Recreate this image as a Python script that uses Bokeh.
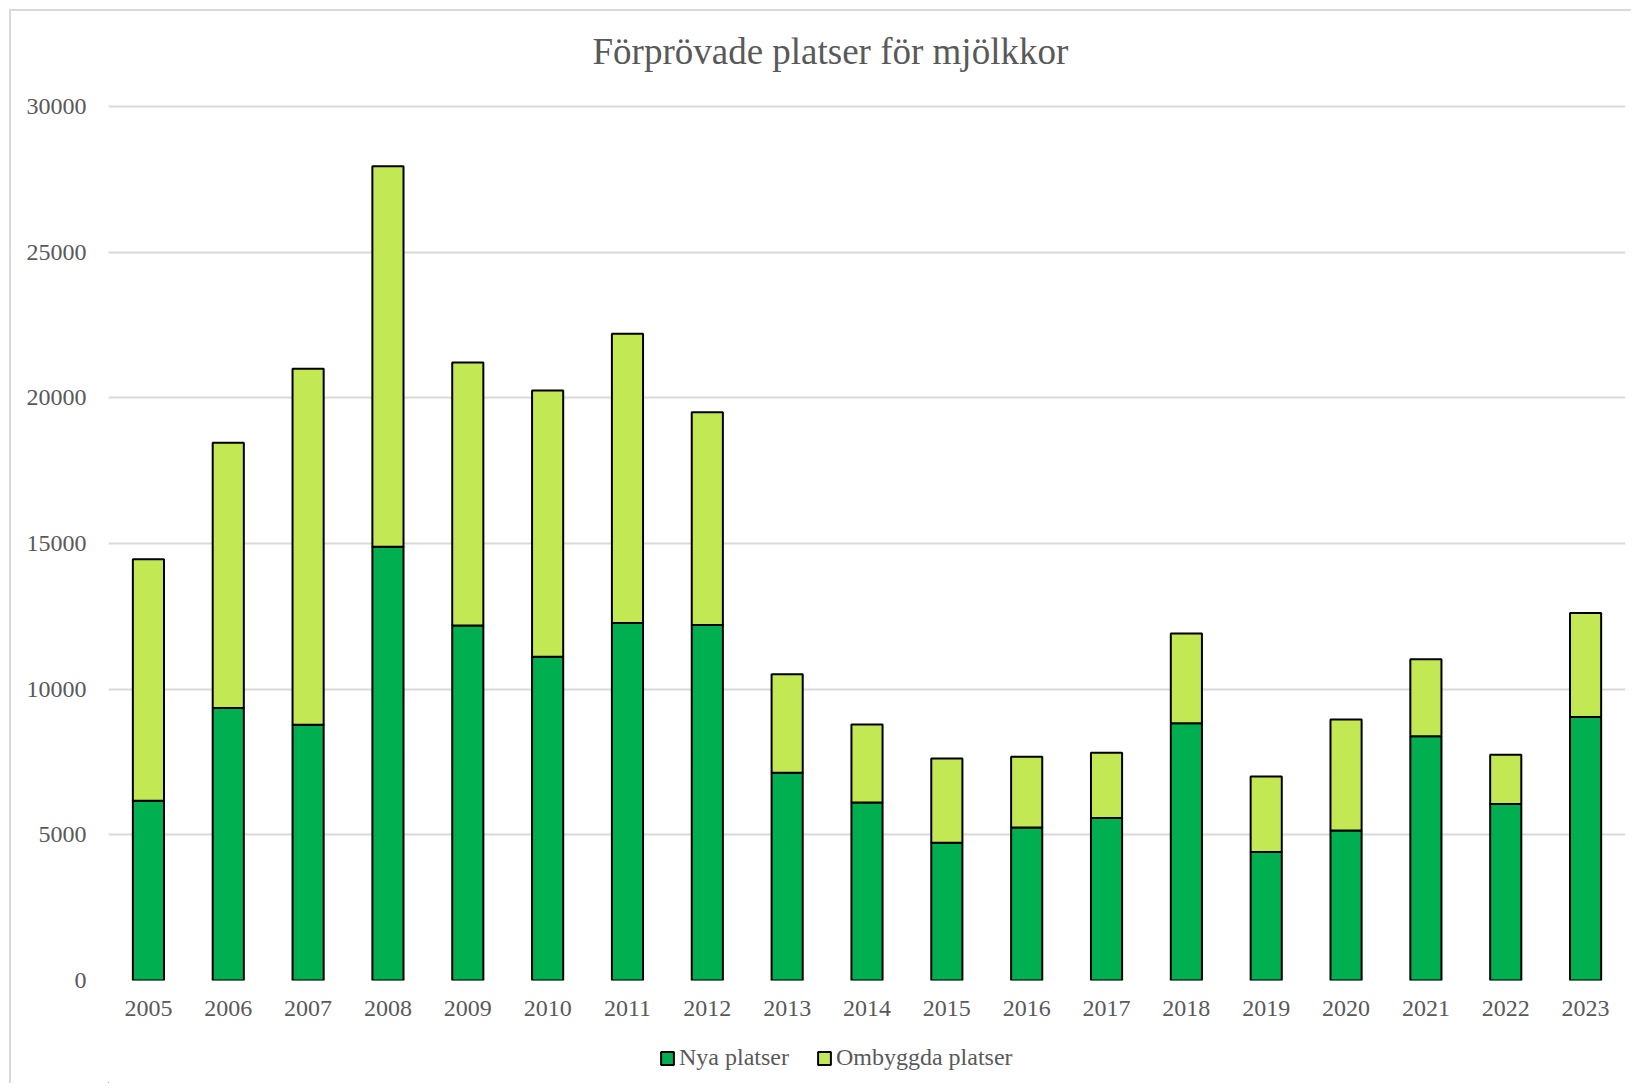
from bokeh.plotting import figure
from bokeh.models import ColumnDataSource, Legend, LegendItem, FactorRange, Range1d, Title
from bokeh.layouts import column
from bokeh.embed import file_html
from bokeh.resources import INLINE

years = [str(y) for y in range(2005, 2024)]
nya = [6170, 9350, 8780, 14890, 12180, 11110, 12270, 12200, 7130, 6110,
       4730, 5250, 5580, 8830, 4410, 5150, 8380, 6060, 9040]
ombyggda = [8290, 9110, 12220, 13060, 9030, 9140, 9930, 7300, 3380, 2680,
            2890, 2430, 2240, 3080, 2590, 3810, 2650, 1690, 3570]
y_ticks = [0, 5000, 10000, 15000, 20000, 25000, 30000]
title_text = "Förprövade platser för mjölkkor"
series_names = ["Nya platser", "Ombyggda platser"]
colors = ["#00B050", "#C2E854"]

FONT = "Liberation Serif"
TXT = "#595959"
BORDER = "2px solid #d9d9d9"

src = ColumnDataSource(dict(year=years, nya=nya, ombyggda=ombyggda))

p = figure(width=1622, height=1029, x_range=FactorRange(*years), y_range=Range1d(0, 30100),
           output_backend="svg", toolbar_location=None, title=None,
           min_border_left=97, min_border_right=8, min_border_top=92, min_border_bottom=60)
p.outline_line_color = None
p.styles = {"margin-left": "9px", "margin-top": "9px",
            "border-left": BORDER, "border-top": BORDER}

spacer = Title(text=" ", text_font_size="22px", standoff=0)
p.add_layout(spacer, "above")
ttl = Title(text=title_text, text_font=FONT, text_font_size="37px", text_font_style="normal",
            text_color=TXT, align="left", offset=484)
p.add_layout(ttl, "above")

r = p.vbar_stack(["nya", "ombyggda"], x="year", width=0.39, source=src,
                 color=colors, line_color="black", line_width=2)

p.xaxis.axis_line_color = None
p.xaxis.major_tick_line_color = None
p.xaxis.minor_tick_line_color = None
p.xaxis.major_tick_out = 0
p.xaxis.major_tick_in = 0
p.xaxis.minor_tick_out = 0
p.xaxis.major_label_text_font = FONT
p.xaxis.major_label_text_font_size = "24px"
p.xaxis.major_label_text_color = TXT
p.xaxis.major_label_standoff = 20
p.xgrid.grid_line_color = None

p.yaxis.ticker = y_ticks
p.yaxis.axis_line_color = None
p.yaxis.major_tick_line_color = None
p.yaxis.minor_tick_line_color = None
p.yaxis.major_tick_out = 0
p.yaxis.major_tick_in = 0
p.yaxis.minor_tick_out = 0
p.yaxis.major_label_text_font = FONT
p.yaxis.major_label_text_font_size = "24px"
p.yaxis.major_label_text_color = TXT
p.yaxis.major_label_standoff = 22
p.ygrid.grid_line_color = "#d9d9d9"
p.ygrid.grid_line_width = 2

# legend strip below the chart (swatch renderers sit outside its visible range)
lg = figure(width=1622, height=45, x_range=Range1d(0, 1), y_range=Range1d(0, 1),
            output_backend="svg", toolbar_location=None, title=None,
            x_axis_type=None, y_axis_type=None,
            min_border_left=0, min_border_right=0, min_border_top=0, min_border_bottom=0)
lg.outline_line_color = None
lg.grid.visible = False
lg.styles = {"margin-left": "9px", "border-left": BORDER}
lr = [lg.vbar(x=[-5], top=[-5], bottom=[-6], width=0.1, color=c, line_color="black", line_width=2)
      for c in colors]

legend = Legend(items=[LegendItem(label=series_names[0], renderers=[lr[0]]),
                       LegendItem(label=series_names[1], renderers=[lr[1]])],
                orientation="horizontal", location=(551, 12),
                glyph_width=16, glyph_height=16, label_standoff=4, spacing=27,
                padding=0, margin=0, border_line_color=None, background_fill_alpha=0,
                label_text_font=FONT, label_text_font_size="24px", label_text_color=TXT)
lg.add_layout(legend, "center")

layout = column(p, lg, spacing=0)
open("out.html", "w").write(file_html(layout, INLINE))
